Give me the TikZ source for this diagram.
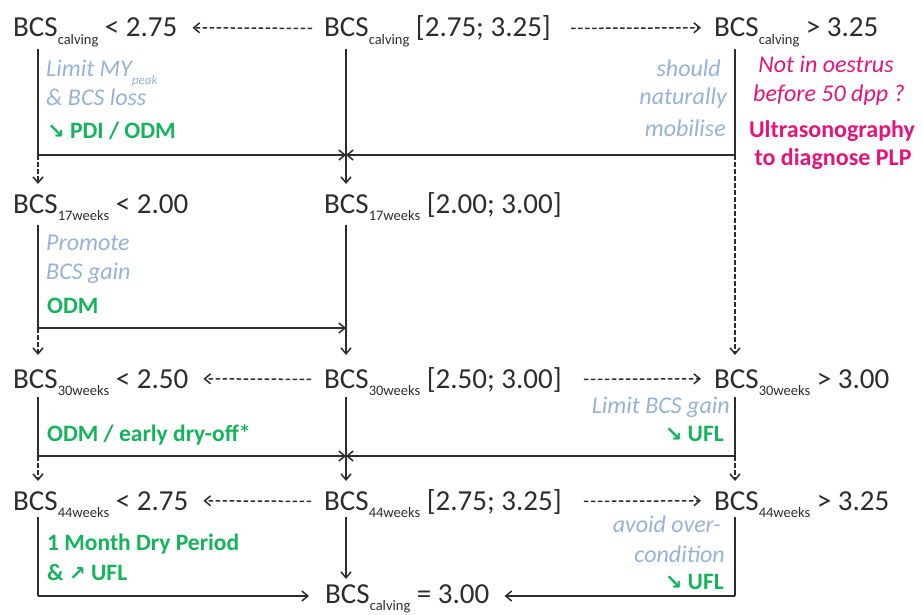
\documentclass[tikz,border=0pt]{standalone}
\usepackage{fontspec}
\setmainfont{Carlito}
\newfontfamily\symf{DejaVu Sans}
\usetikzlibrary{arrows.meta}
\definecolor{notec}{RGB}{150,178,216}
\definecolor{actc}{RGB}{20,180,90}
\definecolor{warnc}{RGB}{228,20,120}
\definecolor{txt}{RGB}{45,45,45}
\newcommand{\bcsl}[2]{BCS\smash{\raisebox{-0.26em}{\fontsize{14.5}{15}\selectfont #1}}~#2}
\newcommand{\dn}{{\symf\bfseries\fontsize{21}{21}\selectfont ↘}}
\newcommand{\up}{{\symf\fontsize{20}{20}\selectfont ↗}}
\begin{document}
\begin{tikzpicture}[x=1pt,y=-1pt,
  lab/.style={anchor=base west,inner sep=0pt,text=txt,font=\fontsize{29}{33}\selectfont},
  note/.style={inner sep=0pt,text=notec,font=\fontsize{24}{28}\selectfont\itshape},
  act/.style={inner sep=0pt,text=actc,font=\fontsize{23.5}{28}\selectfont\bfseries},
  warn/.style={inner sep=0pt,anchor=base,text=warnc,font=\fontsize{24}{27}\selectfont\itshape},
  warnb/.style={inner sep=0pt,anchor=base,text=warnc,font=\fontsize{24}{27}\selectfont\bfseries},
  arr/.style={-{Straight Barb[length=6pt,width=10pt]},line width=1.5pt,draw=txt},
  darr/.style={arr,dash pattern=on 4.5pt off 2.5pt},
  ln/.style={line width=1.5pt,draw=txt}]
\useasboundingbox (0,0) rectangle (923,615);

% row labels
\node[lab] (l1) at (13,37) {\bcsl{calving}{< 2.75}};
\node[lab] (c1) at (324,37) {\bcsl{calving}{[2.75; 3.25]}};
\node[lab] (r1) at (714,37) {\bcsl{calving}{> 3.25}};
\node[lab] (l2) at (13,213) {\bcsl{17weeks}{< 2.00}};
\node[lab] (c2) at (324,213) {\bcsl{17weeks}{[2.00; 3.00]}};
\node[lab] (l3) at (13,388) {\bcsl{30weeks}{< 2.50}};
\node[lab] (c3) at (324,388) {\bcsl{30weeks}{[2.50; 3.00]}};
\node[lab] (r3) at (714,388) {\bcsl{30weeks}{> 3.00}};
\node[lab] (l4) at (13,510) {\bcsl{44weeks}{< 2.75}};
\node[lab] (c4) at (324,510) {\bcsl{44weeks}{[2.75; 3.25]}};
\node[lab] (r4) at (714,510) {\bcsl{44weeks}{> 3.25}};
\node[lab] (f) at (325,603) {\bcsl{calving}{= 3.00}};

% horizontal dashed arrows
\draw[darr,shorten <=12pt,shorten >=15pt] (c1.west) -- (l1.east);
\draw[darr,shorten <=20pt,shorten >=13pt] (c1.east) -- (r1.west);
\draw[darr,shorten <=13pt,shorten >=15pt] (c3.west) -- (l3.east);
\draw[darr,shorten <=22pt,shorten >=13pt] (c3.east) -- (r3.west);
\draw[darr,shorten <=13pt,shorten >=15pt] (c4.west) -- (l4.east);
\draw[darr,shorten <=22pt,shorten >=13pt] (c4.east) -- (r4.west);

% coordinates
\coordinate (a1) at (38,49);  \coordinate (j1) at (38,155);
\coordinate (m1) at (346,49); \coordinate (k1) at (346,155);
\coordinate (b1) at (735,49); \coordinate (h1) at (735,155);
\coordinate (t2) at (38,184); \coordinate (n2) at (346,184);
\coordinate (a2) at (38,225); \coordinate (j2) at (38,328);
\coordinate (m2) at (346,225); \coordinate (k2) at (346,328);
\coordinate (t3) at (38,355); \coordinate (n3) at (346,355); \coordinate (s3) at (735,355);
\coordinate (a3) at (38,397); \coordinate (j3) at (38,456);
\coordinate (m3) at (346,397); \coordinate (k3) at (346,456);
\coordinate (b3) at (735,397); \coordinate (h3) at (735,456);
\coordinate (t4) at (38,481); \coordinate (n4) at (346,481); \coordinate (s4) at (735,481);
\coordinate (a4) at (38,517); \coordinate (j4) at (38,596);
\coordinate (m4) at (346,517); \coordinate (n5) at (346,579);
\coordinate (b4) at (735,517); \coordinate (h4) at (735,596);

% block 1
\draw[ln] (a1) -- (j1);
\draw[arr] (j1) -- (k1);
\draw[ln] (b1) -- (h1);
\draw[arr] (h1) -- (k1);
\draw[arr] (m1) -- (n2);
\draw[darr] (j1) -- (t2);
\draw[darr] (h1) -- (s3);

% block 2
\draw[ln] (a2) -- (j2);
\draw[arr] (j2) -- (k2);
\draw[arr] (m2) -- (n3);
\draw[darr] (j2) -- (t3);

% block 3
\draw[ln] (a3) -- (j3);
\draw[arr] (j3) -- (k3);
\draw[ln] (b3) -- (h3);
\draw[arr] (h3) -- (k3);
\draw[arr] (m3) -- (n4);
\draw[darr] (j3) -- (t4);
\draw[darr] (h3) -- (s4);

% block 4
\draw[ln] (a4) -- (j4);
\draw[arr,shorten >=16pt] (j4) -- (j4 -| f.west);
\draw[arr] (m4) -- (n5);
\draw[ln] (b4) -- (h4);
\draw[arr,shorten >=15pt] (h4) -- (h4 -| f.east);

% notes left
\node[note,anchor=base west] (n1a) at (46,77) {Limit MY\raisebox{-0.3em}{\fontsize{13}{13}\selectfont peak}};
\node[note,anchor=base west] (n1b) at (46,106) {\& BCS loss};
\node[act,anchor=base west] (g1) at (47,139) {\dn\ PDI / ODM};
\node[note,anchor=base west] (n2a) at (46,250) {Promote};
\node[note,anchor=base west] (n2b) at (46,279) {BCS gain};
\node[act,anchor=base west] (g2) at (47,313) {ODM};
\node[act,anchor=base west] (g3) at (47,441) {ODM / early dry-off*};
\node[act,anchor=base west] (g4a) at (47,550) {1 Month Dry Period};
\node[act,anchor=base west] (g4b) at (47,580) {\& \up\ UFL};

% notes right
\node[note,anchor=base east] (n1r) at (721,77) {should};
\node[note,anchor=base east] (n1s) at (727,105) {naturally};
\node[note,anchor=base east] (n1t) at (726,136) {mobilise};
\node[warn] (w1) at (826,73) {Not in oestrus};
\node[warn] (w2) at (829,102) {before 50 dpp ?};
\node[warnb] (w3) at (832,138) {Ultrasonography};
\node[warnb] (w4) at (833,165) {to diagnose PLP};
\node[note,anchor=base east] (n3r) at (730,413) {Limit BCS gain};
\node[act,anchor=base east] (g3r) at (724,441) {\dn\ UFL};
\node[note,anchor=base east] (n4r) at (721,532) {avoid over-};
\node[note,anchor=base east] (n4s) at (725,562) {condition};
\node[act,anchor=base east] (g4r) at (724,589) {\dn\ UFL};
\end{tikzpicture}
\end{document}
